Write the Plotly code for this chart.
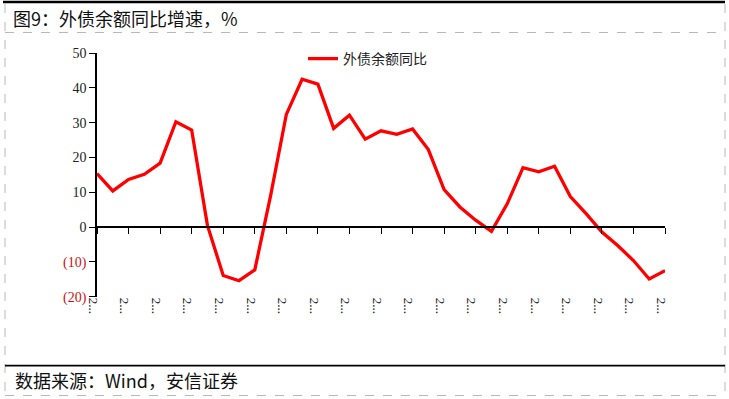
import plotly.graph_objects as go

# ---- data ----
periods = list(range(37))
yoy_growth = [15.4, 10.4, 13.7, 15.2, 18.4, 30.3, 27.9, 0.5, -13.9, -15.4,
              -12.3, 9.0, 32.4, 42.5, 41.1, 28.4, 32.2, 25.3, 27.7, 26.7,
              28.2, 22.3, 10.8, 5.8, 2.0, -1.2, 6.7, 17.1, 15.9, 17.5,
              8.8, 3.9, -1.4, -5.3, -9.6, -14.9, -12.5]
x_tick_vals = list(range(0, 37, 2))
x_tick_text = ["2..."] * len(x_tick_vals)
y_tick_vals = [50, 40, 30, 20, 10, 0, -10, -20]
y_tick_text = ["50", "40", "30", "20", "10", "0",
               '<span style="color:#d01010">(10)</span>',
               '<span style="color:#d01010">(20)</span>']
series_name = "外债余额同比"
title_text = "图9：外债余额同比增速，%"
source_text = "数据来源：Wind，安信证券"

W, H = 729, 399
def px_x(x): return x / W
def px_y(y): return 1 - y / H

x_dom = [px_x(97), px_x(665)]
y_dom = [px_y(296.7), px_y(53.2)]
y_range = [-20, 50]
zero_pos = y_dom[0] + (0 - y_range[0]) / (y_range[1] - y_range[0]) * (y_dom[1] - y_dom[0])

fig = go.Figure()
fig.add_trace(go.Scatter(x=periods, y=yoy_growth, mode="lines", name=series_name,
                         line=dict(color="#ff0000", width=3.3)))
# helper (invisible) trace so the zero-line category axis is rendered
fig.add_trace(go.Scatter(x=[periods[0], periods[-1]], y=[0, 0], xaxis="x2", yaxis="y",
                         mode="lines", line=dict(width=0, color="rgba(0,0,0,0)"),
                         showlegend=False, hoverinfo="skip"))

serif = "Liberation Serif, Times New Roman, serif"
cjk = "Noto Sans CJK SC"

fig.update_layout(
    width=W, height=H,
    margin=dict(l=0, r=0, t=0, b=0, autoexpand=False),
    paper_bgcolor="white", plot_bgcolor="white",
    showlegend=True,
    legend=dict(orientation="h", x=px_x(303), y=px_y(43), xanchor="left", yanchor="top",
                font=dict(family=cjk, size=14, color="#222"), bgcolor="rgba(0,0,0,0)",
                itemwidth=30),
    xaxis=dict(domain=x_dom, range=[0, 36], anchor="y",
               tickmode="array", tickvals=x_tick_vals, ticktext=x_tick_text,
               tickangle=90, tickfont=dict(family=serif, size=13, color="#222"),
               ticklabelshift=-4,
               showline=False, ticks="", showgrid=False, zeroline=False),
    xaxis2=dict(domain=x_dom, range=[0, 36], overlaying="x", anchor="free",
                position=zero_pos, tickmode="array", tickvals=x_tick_vals,
                showticklabels=False, ticks="outside", ticklen=6, tickwidth=1.3,
                tickcolor="black", showline=True, linecolor="black", linewidth=1.5,
                showgrid=False, zeroline=False),
    yaxis=dict(domain=y_dom, range=y_range, tickmode="array",
               tickvals=y_tick_vals, ticktext=y_tick_text,
               tickfont=dict(family=serif, size=14, color="#222"),
               ticks="outside", ticklen=6, tickwidth=1.3, tickcolor="black",
               showline=True, linecolor="black", linewidth=1.5,
               showgrid=False, zeroline=False),
)

dash_col = "#b8b8b8"
shapes = [
    dict(type="line", xref="paper", yref="paper", x0=px_x(3), x1=px_x(725), y0=px_y(2), y1=px_y(2),
         line=dict(color="black", width=2.5)),
    dict(type="line", xref="paper", yref="paper", x0=px_x(5), x1=px_x(725), y0=px_y(32.5), y1=px_y(32.5),
         line=dict(color=dash_col, width=1, dash="dash")),
    dict(type="line", xref="paper", yref="paper", x0=px_x(5), x1=px_x(5), y0=px_y(4), y1=px_y(396),
         line=dict(color=dash_col, width=1, dash="dash")),
    dict(type="line", xref="paper", yref="paper", x0=px_x(725), x1=px_x(725), y0=px_y(4), y1=px_y(396),
         line=dict(color=dash_col, width=1, dash="dash")),
    dict(type="line", xref="paper", yref="paper", x0=px_x(5), x1=px_x(725), y0=px_y(365.7), y1=px_y(365.7),
         line=dict(color="black", width=1.8)),
    dict(type="line", xref="paper", yref="paper", x0=px_x(5), x1=px_x(725), y0=px_y(395.5), y1=px_y(395.5),
         line=dict(color=dash_col, width=1, dash="dash")),
]
fig.update_layout(shapes=shapes)

fig.add_annotation(text=title_text, xref="paper", yref="paper", x=px_x(11), y=px_y(18),
                   xanchor="left", yanchor="middle", showarrow=False,
                   font=dict(family=cjk, size=18, color="#111"))
fig.add_annotation(text=source_text, xref="paper", yref="paper", x=px_x(13), y=px_y(380),
                   xanchor="left", yanchor="middle", showarrow=False,
                   font=dict(family=cjk, size=18, color="#111"))

fig.write_html("out.html", config={"displayModeBar": False},
               post_script="document.body.style.margin='0';")
